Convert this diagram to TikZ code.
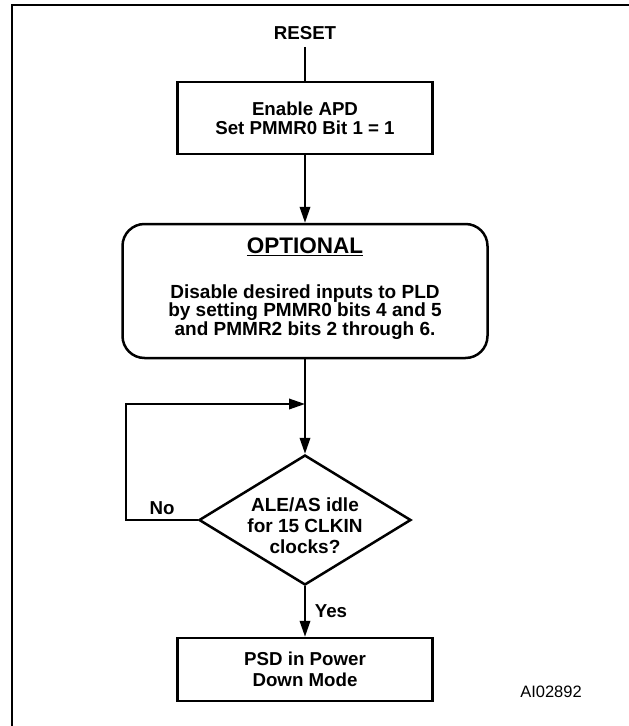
\documentclass[tikz,border=0pt]{standalone}
\usepackage{fontspec}
\setmainfont{Liberation Sans}
\usetikzlibrary{arrows.meta,shapes.geometric}
\begin{document}
\begin{tikzpicture}[x=1pt,y=-1pt,
  box/.style={draw,line width=2.5pt,minimum width=255pt,inner sep=0pt,align=center},
  lbl/.style={font=\fontsize{18.7}{20}\selectfont\bfseries,align=center,inner sep=0pt},
  conn/.style={line width=2pt},
  arr/.style={conn,-{Triangle[length=16pt,width=10.5pt]}},
]
\useasboundingbox (0,0) rectangle (629,726);
\draw[line width=2pt] (12,726) -- (12,5) -- (629,5);

\node[lbl,inner sep=7pt] (reset) at (305,33) {RESET};
\node[box,minimum height=72pt,font=\fontsize{18.7}{19}\selectfont\bfseries] (apd) at (305,118) {Enable APD\\Set PMMR0 Bit 1 = 1};
\node[draw,line width=2.5pt,rounded corners=22pt,minimum width=365pt,minimum height=134pt,inner sep=0pt] (opt) at (305,291) {};
\node[lbl,font=\fontsize{22.5}{24}\selectfont\bfseries] (optt) at (305,247) {\underline{OPTIONAL}};
\node[lbl,font=\fontsize{19}{18.5}\selectfont\bfseries] (optb) at (305,312) {Disable desired inputs to PLD\\by setting PMMR0 bits 4 and 5\\and PMMR2 bits 2 through 6.};
\node[draw,diamond,line width=2.5pt,minimum width=212pt,minimum height=130pt,inner sep=0pt,aspect=1.63] (dia) at (305,520) {};
\node[lbl,font=\fontsize{19}{21}\selectfont\bfseries] (diat) at (305,526) {ALE/AS idle\\for 15 CLKIN\\clocks?};
\node[box,minimum height=63pt,font=\fontsize{18.7}{21}\selectfont\bfseries] (psd) at (305,669.5) {PSD in Power\\Down Mode};
\node[lbl] (no) at (162,508) {No};
\node[lbl] (yes) at (331,611) {Yes};
\node[font=\fontsize{16.5}{18}\selectfont,inner sep=0pt] (ai) at (551,692) {AI02892};

\coordinate (loopc) at (126,404);
\coordinate (join) at (305,404);

\draw[conn] (reset.south) -- (apd.north);
\draw[arr] (apd.south) -- (opt.north);
\draw[arr] (opt.south) -- (dia.north);
\draw[arr] (dia.west) -| (loopc) -- (join);
\draw[arr] (dia.south) -- (psd.north);
\end{tikzpicture}
\end{document}
